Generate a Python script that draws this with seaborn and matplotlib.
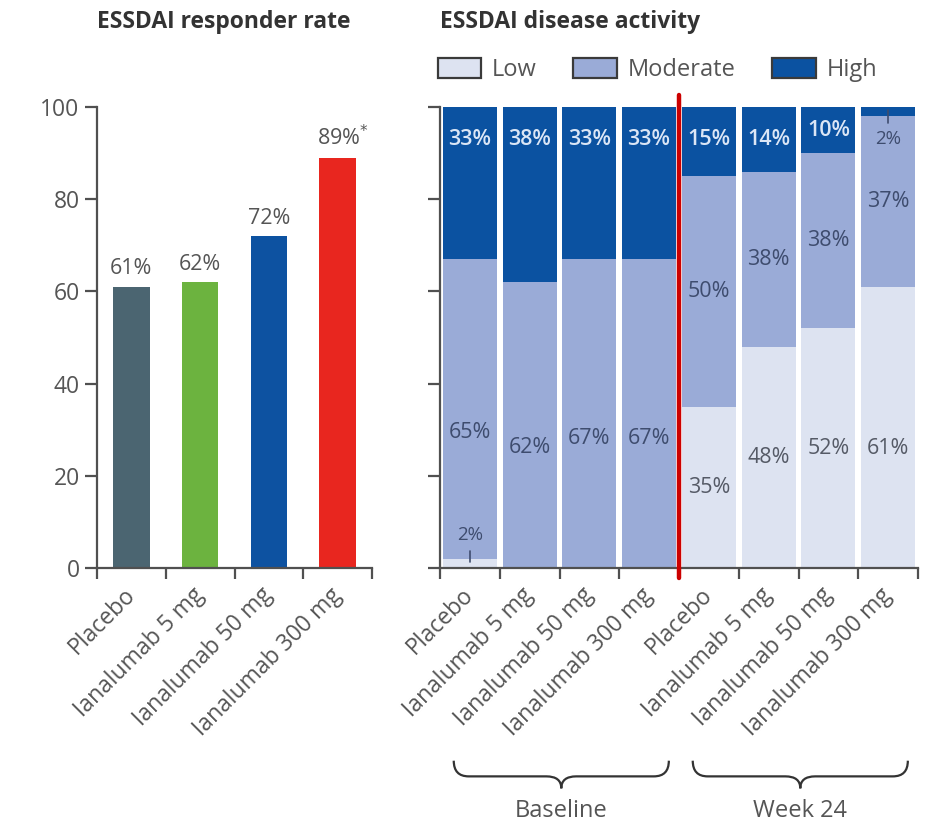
import matplotlib
matplotlib.use("Agg")
import matplotlib.pyplot as plt
from matplotlib.patches import Patch, PathPatch
from matplotlib.path import Path
import pandas as pd
import seaborn as sns

# ---- data -------------------------------------------------------------
treatments = ["Placebo", "Ianalumab 5 mg", "Ianalumab 50 mg", "Ianalumab 300 mg"]
responder_rate = [61, 62, 72, 89]
responder_marks = ["", "", "", "*"]
responder_colors = ["#4b6571", "#6cb33f", "#0d52a1", "#e8261f"]

timepoints = ["Baseline", "Week 24"]
activity_low = [2, 0, 0, 0, 35, 48, 52, 61]
activity_moderate = [65, 62, 67, 67, 50, 38, 38, 37]
activity_high = [33, 38, 33, 33, 15, 14, 10, 2]
level_names = ["Low", "Moderate", "High"]
level_colors = ["#dde3f1", "#9aabd7", "#0b52a1"]

# ---- style ------------------------------------------------------------
sns.set_theme(style="ticks")
plt.rcParams["font.family"] = ["Open Sans", "DejaVu Sans"]
AXIS_COLOR = "#505050"
TEXT_COLOR = "#555555"
plt.rcParams.update({
    "axes.edgecolor": AXIS_COLOR,
    "axes.linewidth": 1.6,
    "xtick.color": AXIS_COLOR,
    "ytick.color": AXIS_COLOR,
    "xtick.labelcolor": TEXT_COLOR,
    "ytick.labelcolor": TEXT_COLOR,
    "xtick.major.width": 1.6,
    "ytick.major.width": 1.6,
    "xtick.minor.width": 1.6,
})

fig = plt.figure(figsize=(9.32, 8.26), dpi=100)
ax1 = fig.add_axes([97 / 932, 1 - 568 / 826, 275 / 932, 461 / 826])
ax2 = fig.add_axes([440 / 932, 1 - 568 / 826, 478 / 932, 461 / 826])

TICK_FS = 16.5
LABEL_FS = 15.5
TITLE_FS = 16.5


def style_axes(ax, labels):
    n = len(labels)
    sns.despine(ax=ax)
    ax.set_xlim(-0.5, n - 0.5)
    ax.set_ylim(0, 100)
    ax.spines["left"].set_bounds(0, 100)
    ax.set_yticks([0, 20, 40, 60, 80, 100])
    ax.tick_params(axis="y", length=8.5, labelsize=TICK_FS, pad=4)
    ax.set_xticks(range(n))
    ax.set_xticks([i - 0.5 for i in range(n + 1)], minor=True)
    ax.tick_params(axis="x", which="major", length=0, pad=17, labelsize=TICK_FS)
    ax.tick_params(axis="x", which="minor", length=8)
    ax.set_xlabel("")
    ax.set_ylabel("")
    ax.set_xticklabels(labels)
    for lab in ax.get_xticklabels():
        lab.set_rotation(45)
        lab.set_ha("right")
        lab.set_va("center")
        lab.set_rotation_mode("anchor")


# ---- left: responder rate --------------------------------------------
df_resp = pd.DataFrame({"treatment": treatments, "rate": responder_rate})
sns.barplot(data=df_resp, x="treatment", y="rate", hue="treatment",
            palette=responder_colors, width=0.53, saturation=1,
            linewidth=0, legend=False, ax=ax1)
style_axes(ax1, treatments)
for i, (v, m) in enumerate(zip(responder_rate, responder_marks)):
    label = f"{v}%" + (r"$^{" + m + "}$" if m else "")
    ax1.text(i + (0.07 if m else 0), v + 1.6, label, ha="center", va="bottom",
             color=TEXT_COLOR, fontsize=LABEL_FS)
ax1.text(0.0, 1.184, "ESSDAI responder rate", transform=ax1.transAxes,
         ha="left", va="center", fontsize=TITLE_FS, fontweight="bold", color="#333333")

# ---- right: disease activity (stacked) -------------------------------
slots = [f"{tp}: {t}" for tp in timepoints for t in treatments]
slot_time = [tp for tp in timepoints for _ in treatments]
cum_low = activity_low
cum_mod = [l + m for l, m in zip(activity_low, activity_moderate)]
cum_high = [c + h for c, h in zip(cum_mod, activity_high)]
df_act = pd.DataFrame({"slot": slots, "low": cum_low, "mod": cum_mod, "high": cum_high})

for col, color in zip(["high", "mod", "low"], level_colors[::-1]):
    sns.barplot(data=df_act, x="slot", y=col, order=slots, color=color,
                width=0.9, saturation=1, linewidth=0, ax=ax2)
style_axes(ax2, treatments * len(timepoints))
ax2.set_yticklabels([])

HIGH_TXT = "#dbe6f6"
MOD_TXT = "#3e4c6e"
LOW_TXT = "#555a66"
for i in range(len(slots)):
    lo, mo, hi = activity_low[i], activity_moderate[i], activity_high[i]
    # high band
    if hi >= 5:
        y = max(lo + mo + hi / 2, 93)
        ax2.text(i, y, f"{hi}%", ha="center", va="center", color=HIGH_TXT,
                 fontsize=LABEL_FS, fontweight="semibold")
    elif hi > 0:
        ax2.text(i, 93, f"{hi}%", ha="center", va="center", color=MOD_TXT,
                 fontsize=LABEL_FS - 2)
        ax2.plot([i, i], [99.4, 96.6], color=MOD_TXT, lw=1.2)
    # moderate band
    if slot_time[i] == timepoints[0]:
        y = lo + 0.42 * mo
    else:
        y = lo + mo / 2
    ax2.text(i, y, f"{mo}%", ha="center", va="center", color=MOD_TXT, fontsize=LABEL_FS)
    # low band
    if lo >= 5:
        ax2.text(i, min(lo / 2, 26), f"{lo}%", ha="center", va="center",
                 color=LOW_TXT, fontsize=LABEL_FS)
    elif lo > 0:
        ax2.text(i, 7.2, f"{lo}%", ha="center", va="center", color=MOD_TXT,
                 fontsize=LABEL_FS - 2)
        ax2.plot([i, i], [1.2, 3.6], color=MOD_TXT, lw=1.2)

# divider between baseline and week 24
n_t = len(treatments)
ax2.axvline(n_t - 0.5, ymin=-0.022, ymax=1.026, color="#cc0000", lw=3.2,
            clip_on=False, zorder=5)

ax2.text(0.0, 1.184, "ESSDAI disease activity", transform=ax2.transAxes,
         ha="left", va="center", fontsize=TITLE_FS, fontweight="bold", color="#333333")

handles = [Patch(facecolor=c, edgecolor="#3a3a3a", linewidth=1.6, label=n)
           for n, c in zip(level_names, level_colors)]
ax2.legend(handles=handles, loc="center left", bbox_to_anchor=(-0.005, 1.08),
           ncol=3, frameon=False, fontsize=17, handlelength=1.85,
           handleheight=0.95, handletextpad=0.45, columnspacing=1.55,
           borderaxespad=0, borderpad=0, labelcolor=TEXT_COLOR)


def draw_brace(ax, x0, x1, y_top, y_mid, y_tip, color="#333333"):
    xc = (x0 + x1) / 2
    d = 0.25
    verts = [
        (x0, y_top), (x0, y_mid), (x0 + d, y_mid),
        (xc - d, y_mid),
        (xc, y_mid), (xc, y_tip),
        (xc, y_mid), (xc + d, y_mid),
        (x1 - d, y_mid),
        (x1, y_mid), (x1, y_top),
    ]
    codes = [Path.MOVETO, Path.CURVE3, Path.CURVE3,
             Path.LINETO,
             Path.CURVE3, Path.CURVE3,
             Path.CURVE3, Path.CURVE3,
             Path.LINETO,
             Path.CURVE3, Path.CURVE3]
    patch = PathPatch(Path(verts, codes), transform=ax.get_xaxis_transform(),
                      facecolor="none", edgecolor=color, lw=1.6, clip_on=False)
    ax.add_patch(patch)
    return xc


for k, tp in enumerate(timepoints):
    g0 = k * n_t
    g1 = g0 + n_t - 1
    xc = draw_brace(ax2, g0 - 0.27, g1 + 0.33, -0.418, -0.452, -0.478)
    ax2.text(xc, -0.527, tp, transform=ax2.get_xaxis_transform(),
             ha="center", va="center", fontsize=17, color=TEXT_COLOR)

fig.savefig("out.png", dpi=100)
